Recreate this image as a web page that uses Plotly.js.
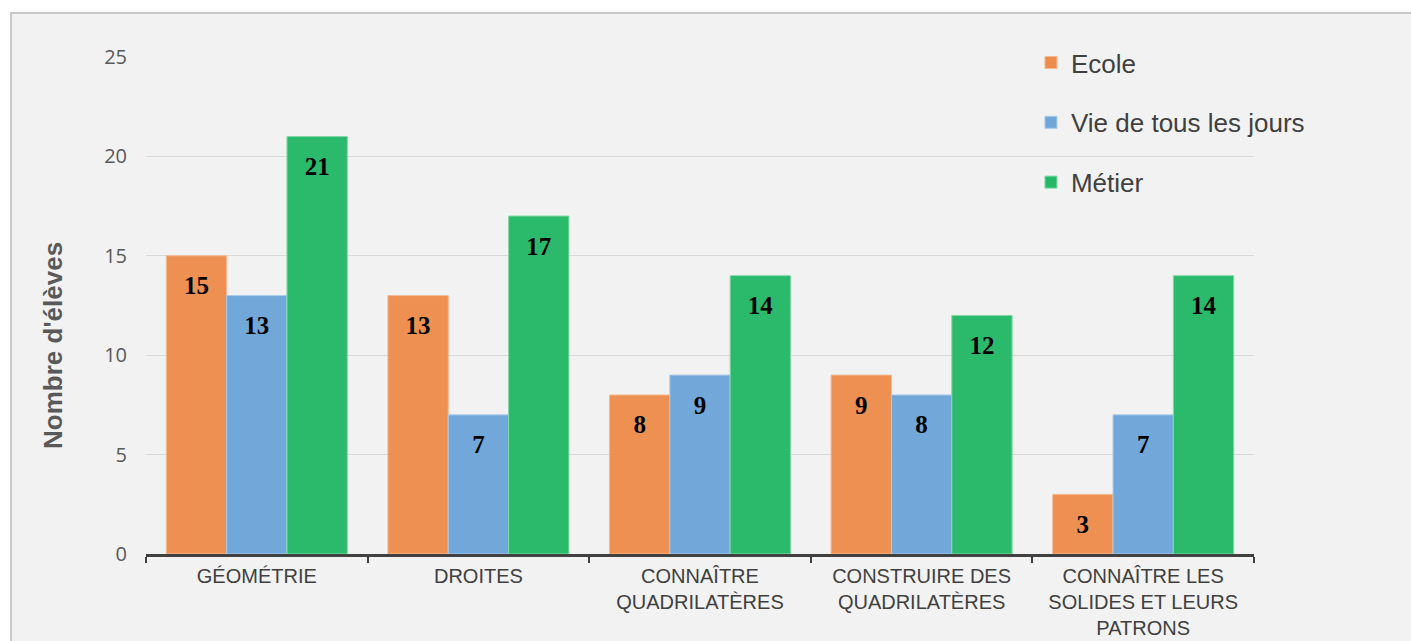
<!DOCTYPE html>
<html>
<head>
<meta charset="utf-8">
<script src="https://cdn.plot.ly/plotly-3.0.1.min.js"></script>
<style>html,body{margin:0;padding:0;background:#fff;}#chart{width:1411px;height:641px;}</style>
</head>
<body>
<div id="chart"></div>
<script>
const categories = ['GÉOMÉTRIE', 'DROITES', 'CONNAÎTRE<br>QUADRILATÈRES', 'CONSTRUIRE DES<br>QUADRILATÈRES', 'CONNAÎTRE LES<br>SOLIDES ET LEURS<br>PATRONS'];
const seriesNames = ['Ecole', 'Vie de tous les jours', 'Métier'];
const ecole = [15, 13, 8, 9, 3];
const vie = [13, 7, 9, 8, 7];
const metier = [21, 17, 14, 12, 14];
const yTicks = [0, 5, 10, 15, 20, 25];
const yTitle = "Nombre d'élèves";

const colors = ['#ED8D4C', '#6EA6D9', '#25B967'];
const lineColors = ['#F5B98F', '#A9CBEB', '#7FD9A5'];
const values = [ecole, vie, metier];

const traces = [];
values.forEach((v, i) => {
  traces.push({
    type: 'bar', x: categories, y: v, name: seriesNames[i],
    legendgroup: 'g' + i,
    marker: {color: colors[i], opacity: 0.97, line: {color: lineColors[i], width: 1}},
    hoverinfo: 'skip'
  });
});
values.forEach((v, i) => {
  traces.push({
    type: 'scatter', mode: 'markers+text', x: categories, y: v,
    text: v.map(String), textposition: 'bottom center',
    textfont: {family: 'Liberation Serif', size: 25, color: '#000000', weight: 'bold'},
    marker: {size: 30, opacity: 0, color: colors[i]},
    showlegend: false, hoverinfo: 'skip', cliponaxis: false
  });
});

const layout = {
  width: 1411, height: 641,
  margin: {l: 146, r: 157, t: 57, b: 87},
  paper_bgcolor: '#ffffff',
  plot_bgcolor: 'rgba(0,0,0,0)',
  barmode: 'group', bargap: 0.183, bargroupgap: 0,
  scattermode: 'group',
  showlegend: true,
  legend: {
    x: 0.7987, y: 1.036, xanchor: 'left', yanchor: 'top',
    bgcolor: 'rgba(0,0,0,0)',
    traceorder: 'grouped', tracegroupgap: 23,
    font: {family: 'Liberation Sans', size: 26, color: '#404040'}
  },
  font: {family: 'Liberation Sans', color: '#404040'},
  xaxis: {
    type: 'category',
    showline: true, linecolor: '#404040', linewidth: 3,
    ticks: 'outside', tickson: 'boundaries', ticklen: 6, tickwidth: 2, tickcolor: '#404040',
    ticklabelstandoff: 2,
    tickfont: {family: 'Liberation Sans', size: 20, color: '#404040'},
    showgrid: false, zeroline: false, fixedrange: true
  },
  yaxis: {
    range: [0, 25], tickvals: yTicks, ticktext: yTicks.map(String),
    showgrid: true, gridcolor: '#d9d9d9', gridwidth: 1,
    zeroline: false, showline: false, ticks: '',
    ticklabelstandoff: 18,
    tickfont: {family: 'Open Sans', size: 20, color: '#595959'},
    fixedrange: true
  },
  annotations: [{
    text: yTitle, textangle: -90, showarrow: false,
    xref: 'paper', yref: 'paper', x: -0.084, y: 0.4205,
    xanchor: 'center', yanchor: 'middle',
    font: {family: 'Liberation Sans', size: 26, color: '#595959', weight: 'bold'}
  }],
  shapes: [{
    type: 'rect', xref: 'paper', yref: 'paper', layer: 'below',
    x0: -0.1218, x1: 1.3, y0: -0.3, y1: 1.0885,
    fillcolor: '#f2f2f2', line: {color: '#c8c8c8', width: 2}
  }]
};

Plotly.newPlot('chart', traces, layout, {displayModeBar: false, staticPlot: true});
</script>
</body>
</html>
